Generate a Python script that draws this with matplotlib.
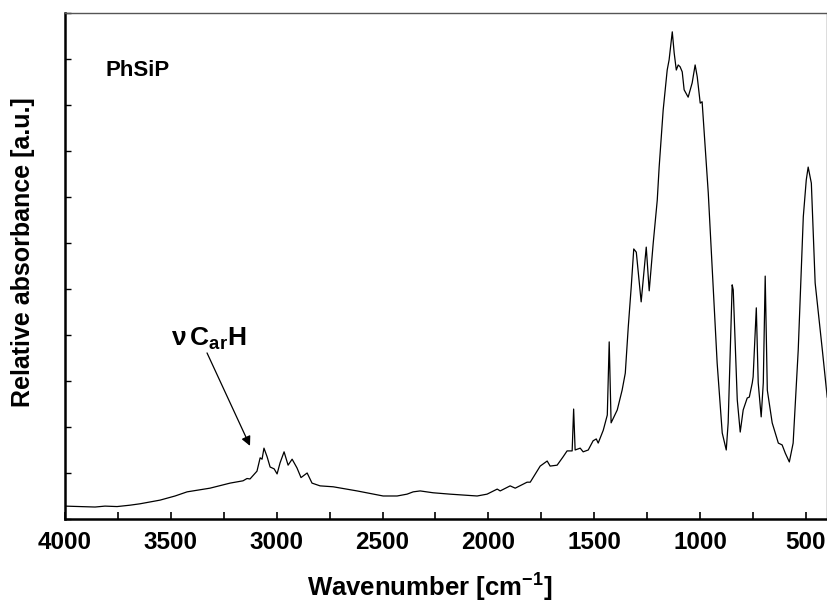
import numpy as np
import matplotlib
matplotlib.use("Agg")
import matplotlib.pyplot as plt

# FTIR spectrum of PhSiP (wavenumber in cm-1, relative absorbance)
wavenumber = [
    4000, 3929, 3858, 3811, 3754, 3693, 3646, 3551, 3480, 3423, 3315, 3220,
    3159, 3140, 3126, 3093, 3078, 3069, 3060, 3045, 3031, 3012, 2998, 2984,
    2965, 2946, 2927, 2904, 2885, 2856, 2833, 2795, 2733, 2620, 2497, 2431,
    2384, 2355, 2322, 2261, 2181, 2053, 2006, 1958, 1944, 1897, 1873, 1817,
    1802, 1755, 1722, 1708, 1675, 1647, 1628, 1604, 1597, 1590, 1566, 1552,
    1528, 1505, 1490, 1481, 1457, 1438, 1429, 1420, 1391, 1368, 1353, 1339,
    1325, 1313, 1301, 1278, 1254, 1240, 1221, 1202, 1193, 1174, 1155, 1146,
    1131, 1122, 1112, 1103, 1094, 1084, 1075, 1056, 1037, 1023, 1013, 999,
    990, 961, 938, 919, 895, 876, 867, 848, 843, 824, 810, 796, 777, 767,
    753, 749, 734, 725, 711, 701, 692, 682, 659, 630, 612, 597, 578, 560,
    536, 512, 498, 489, 474, 456, 422, 399,
]
absorbance = [
    0.28, 0.27, 0.26, 0.28, 0.27, 0.30, 0.33, 0.41, 0.50, 0.59, 0.67, 0.78,
    0.83, 0.88, 0.87, 1.04, 1.33, 1.30, 1.54, 1.35, 1.13, 1.09, 0.98, 1.22,
    1.46, 1.17, 1.30, 1.11, 0.90, 1.00, 0.78, 0.72, 0.70, 0.61, 0.50, 0.50,
    0.54, 0.59, 0.61, 0.57, 0.54, 0.50, 0.54, 0.65, 0.61, 0.72, 0.67, 0.80,
    0.80, 1.15, 1.26, 1.15, 1.17, 1.35, 1.48, 1.48, 2.39, 1.50, 1.54, 1.46,
    1.50, 1.70, 1.74, 1.65, 1.93, 2.26, 3.85, 2.09, 2.37, 2.80, 3.17, 4.17,
    5.04, 5.87, 5.80, 4.72, 5.91, 4.96, 6.00, 6.93, 7.65, 8.89, 9.76, 9.98,
    10.59, 10.13, 9.76, 9.87, 9.83, 9.72, 9.33, 9.17, 9.48, 9.87, 9.61, 9.04,
    9.07, 7.09, 5.04, 3.39, 1.87, 1.50, 2.09, 5.09, 4.98, 2.59, 1.89, 2.37,
    2.63, 2.65, 2.96, 3.09, 4.59, 2.96, 2.22, 2.96, 5.28, 2.80, 2.09, 1.65,
    1.61, 1.43, 1.24, 1.65, 3.67, 6.57, 7.37, 7.65, 7.30, 5.13, 3.67, 2.65,
]

sample_name = "PhSiP"
band_label = r"$\nu\,$C$_{\mathrm{ar}}$H"
band_arrow_start = (3329, 3.61)
band_arrow_tip = (3126, 1.59)

plt.rcParams["font.family"] = ["Liberation Sans", "DejaVu Sans"]
plt.rcParams["font.weight"] = "bold"
plt.rcParams["mathtext.fontset"] = "custom"
plt.rcParams["mathtext.rm"] = "Liberation Sans:bold"
plt.rcParams["mathtext.bf"] = "Liberation Sans:bold"
plt.rcParams["mathtext.it"] = "Liberation Sans:bold"

fig = plt.figure(figsize=(8.28, 6.09), dpi=100)
ax = fig.add_axes([0.0785, 0.1478, 0.9203, 0.8309])

ax.plot(wavenumber, absorbance, color="black", lw=0.9)

ax.set_xlim(4000, 400)
ax.set_ylim(0, 11)
ax.set_xticks([4000, 3500, 3000, 2500, 2000, 1500, 1000, 500])
ax.set_xticks(np.arange(3750, 400, -500), minor=True)
ax.set_yticks(np.arange(0, 11.01, 1))
ax.set_yticklabels([])
ax.tick_params(axis="x", which="both", direction="in", length=5, width=1.2,
               labelsize=17.5, pad=9, top=False)
ax.tick_params(axis="y", direction="in", length=4, width=1, right=False)
for lab in ax.get_xticklabels():
    lab.set_fontweight("bold")

ax.spines["left"].set_linewidth(1.8)
ax.spines["bottom"].set_linewidth(1.8)
ax.spines["top"].set_linewidth(1.0)
ax.spines["top"].set_color("#555555")
ax.spines["right"].set_linewidth(1.0)
ax.spines["right"].set_color("#555555")

ax.set_xlabel(r"Wavenumber [cm$^{-1}$]", fontsize=18.5, fontweight="bold")
ax.set_ylabel("Relative absorbance [a.u.]", fontsize=18, fontweight="bold")
ax.xaxis.set_label_coords(0.479, -0.105)
ax.yaxis.set_label_coords(-0.04, 0.528)

ax.text(3810, 9.76, sample_name, fontsize=16, fontweight="bold", va="center", ha="left")

# band assignment with pointer
ax.text(3500, 3.92, band_label, fontsize=19, fontweight="bold", ha="left", va="center")
ax.annotate("", xy=band_arrow_tip, xytext=band_arrow_start,
            arrowprops=dict(arrowstyle="-|>", color="black", lw=0.9,
                            mutation_scale=14, shrinkA=0, shrinkB=0))

fig.savefig("out.png", dpi=100)
